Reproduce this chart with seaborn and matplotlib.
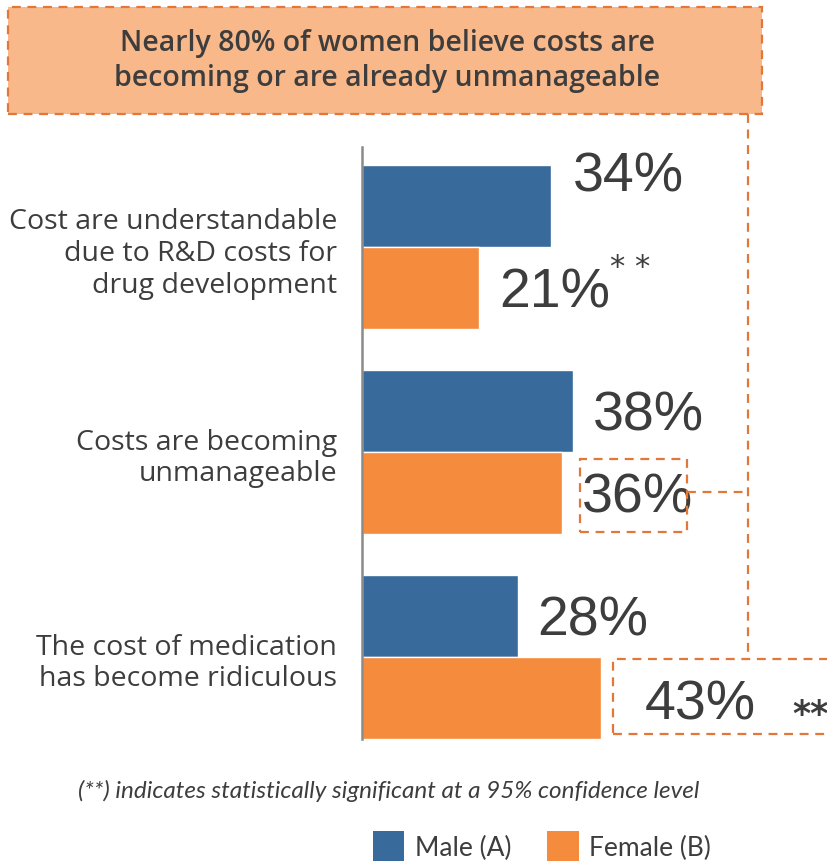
import matplotlib
matplotlib.use("Agg")
import matplotlib.pyplot as plt
import seaborn as sns
import pandas as pd
from matplotlib.patches import Rectangle
from matplotlib.lines import Line2D
from matplotlib.patches import Patch

categories = [
    "Cost are understandable\ndue to R&D costs for\ndrug development",
    "Costs are becoming\nunmanageable",
    "The cost of medication\nhas become ridiculous",
]
male_values = [34, 38, 28]
female_values = [21, 36, 43]
series_names = ["Male (A)", "Female (B)"]
male_flags = ["", "", ""]
female_flags = ["**", "", "**"]
title_text = "Nearly 80% of women believe costs are\nbecoming or are already unmanageable"
footnote_text = "(**) indicates statistically significant at a 95% confidence level"

BLUE = "#386a9c"
ORANGE = "#f58b3c"
BOX_FILL = "#f8b88a"
DASH = "#e3773a"
TEXT = "#3d3d3d"

df = pd.DataFrame({
    "category": categories * 2,
    "series": [series_names[0]] * 3 + [series_names[1]] * 3,
    "value": male_values + female_values,
})

sns.set_theme(style="white")
plt.rcParams["font.family"] = ["Open Sans", "DejaVu Sans"]

W, H = 827, 862
fig = plt.figure(figsize=(W / 100, H / 100), dpi=100)
ax = fig.add_axes([362 / W, 1 - 740 / H, 1 - 362 / W, (740 - 148) / H])

sns.barplot(data=df, y="category", x="value", hue="series", order=categories,
            hue_order=series_names, palette=[BLUE, ORANGE], orient="h",
            width=0.8, saturation=1, legend=False, ax=ax)

ax.set_xlim(0, 465 / 5.56)
ax.set_ylim(2.4, -0.49)
ax.set_xlabel("")
ax.set_ylabel("")
ax.set_xticks([])
for s in ["top", "right", "bottom"]:
    ax.spines[s].set_visible(False)
ax.spines["left"].set_color("#8a8a8a")
ax.spines["left"].set_linewidth(1.8)
ax.tick_params(axis="y", length=0, pad=18, labelsize=20.5, labelcolor=TEXT)
for lab in ax.get_yticklabels():
    lab.set_fontfamily(["Open Sans", "DejaVu Sans"])
    lab.set_linespacing(1.18)

# value labels
px = 72 / 100
offsets = {(0, 0): (22, -30), (1, 2): (44, 6)}
flags = [male_flags, female_flags]
for si, cont in enumerate(ax.containers):
    for ci, bar in enumerate(cont.patches):
        x_end = bar.get_width()
        yc = bar.get_y() + bar.get_height() / 2
        dx, dy = offsets.get((si, ci), (20, 4))
        vals = male_values if si == 0 else female_values
        ax.annotate(f"{vals[ci]}%", (x_end, yc), xytext=(dx * px, -dy * px),
                    textcoords="offset points", ha="left", va="center",
                    fontsize=40, color=TEXT, family=["Liberation Sans", "DejaVu Sans"],
                    annotation_clip=False)
        if flags[si][ci]:
            if ci == 0:
                ax.annotate("* *", (x_end, yc), xytext=((dx + 111) * px, (26 - dy) * px),
                            textcoords="offset points", ha="left", va="center",
                            fontsize=22, color=TEXT, family=["DejaVu Sans"],
                            annotation_clip=False)
            else:
                ax.annotate(flags[si][ci], (x_end, yc), xytext=((dx + 147) * px, -(dy + 10) * px),
                            textcoords="offset points", ha="left", va="center",
                            fontsize=25, fontweight="bold", color=TEXT, family=["DejaVu Sans"],
                            annotation_clip=False)

def P(x, y):
    return (x / W, 1 - y / H)

# title box
fig.patches.append(Rectangle(P(8, 115), (762 - 8) / W, (115 - 8) / H, transform=fig.transFigure,
                             facecolor=BOX_FILL, edgecolor=DASH, linestyle=(0, (4, 3)), linewidth=1.6, zorder=0))
fig.text(387 / W, 1 - 61 / H, title_text, ha="center", va="center", fontsize=20.5,
         fontweight="semibold", color=TEXT, linespacing=1.3, family=["Open Sans", "DejaVu Sans"])

# connector dashed lines and highlight boxes
dash = dict(color=DASH, linestyle=(0, (4, 3)), linewidth=1.6, transform=fig.transFigure)
fig.lines.append(Line2D([748 / W, 748 / W], [1 - 115 / H, 1 - 660 / H], **dash))
fig.lines.append(Line2D([687 / W, 748 / W], [1 - 493 / H, 1 - 493 / H], **dash))
fig.patches.append(Rectangle(P(580, 533), (687 - 580) / W, (533 - 460) / H, transform=fig.transFigure,
                             facecolor="none", edgecolor=DASH, linestyle=(0, (4, 3)), linewidth=1.6))
fig.patches.append(Rectangle(P(613, 735), (840 - 613) / W, (735 - 660) / H, transform=fig.transFigure,
                             facecolor="none", edgecolor=DASH, linestyle=(0, (4, 3)), linewidth=1.6))

# footnote
fig.text(389 / W, 1 - 791 / H, footnote_text, ha="center", va="center", fontsize=17.5,
         style="italic", color=TEXT, family=["Lato", "DejaVu Sans"])

# legend
handles = [Patch(facecolor=BLUE, edgecolor="none"), Patch(facecolor=ORANGE, edgecolor="none")]
fig.legend(handles, series_names, loc="center", bbox_to_anchor=(542 / W, 1 - 847 / H),
           ncol=2, frameon=False, handlelength=1.2, handleheight=1.35,
           handletextpad=0.4, columnspacing=1.35, labelcolor=TEXT,
           prop={"family": ["Lato", "DejaVu Sans"], "size": 19})

fig.savefig("out.png", dpi=100)
